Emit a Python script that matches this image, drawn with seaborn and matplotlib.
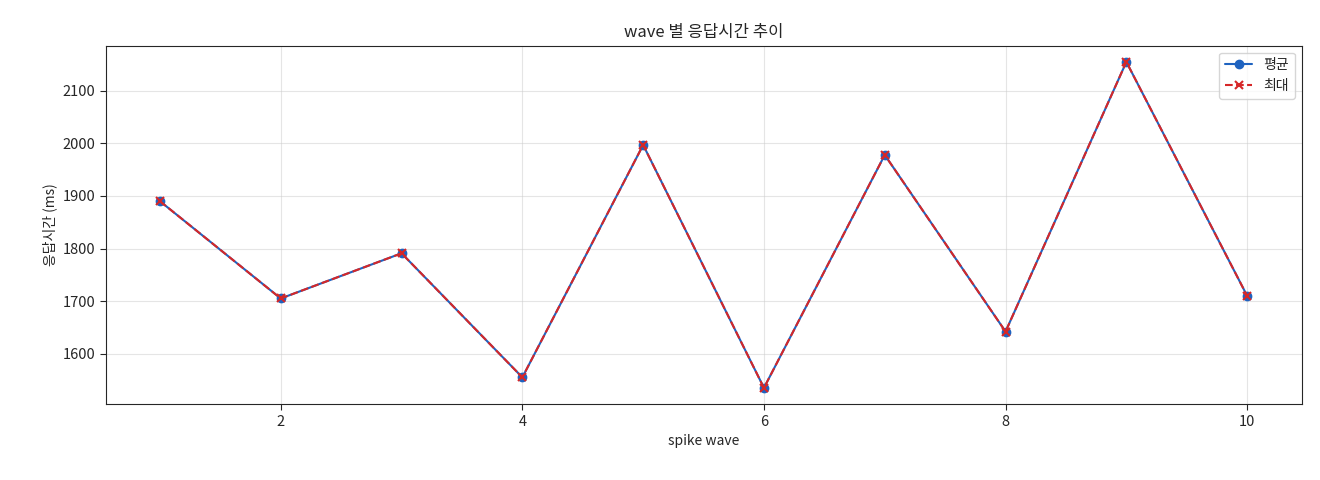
import matplotlib
matplotlib.use("Agg")
import matplotlib.pyplot as plt
import seaborn as sns
import pandas as pd

waves = [1, 2, 3, 4, 5, 6, 7, 8, 9, 10]
avg_ms = [1890, 1705, 1791, 1555, 1997, 1535, 1978, 1642, 2155, 1710]
max_ms = [1890, 1705, 1791, 1555, 1997, 1535, 1978, 1642, 2155, 1710]

sns.set_style("ticks")
plt.rcParams['font.family'] = ['Noto Sans CJK KR', 'DejaVu Sans']
plt.rcParams['axes.unicode_minus'] = False

df = pd.DataFrame({"wave": waves, "avg": avg_ms, "max": max_ms})
fig, ax = plt.subplots(figsize=(13.2, 4.8), dpi=100)
fig.subplots_adjust(left=0.08, right=0.986, top=0.905, bottom=0.158)
sns.lineplot(data=df, x="wave", y="avg", ax=ax, label="평균")
sns.lineplot(data=df, x="wave", y="max", ax=ax, label="최대")
l1, l2 = ax.lines[0], ax.lines[1]
l1.set(color="#1f63c0", marker="o", markersize=6, markerfacecolor="#1f63c0",
       markeredgecolor="#1f63c0", markeredgewidth=1, linestyle="-", linewidth=1.5)
l2.set(color="#d62728", marker="x", markersize=6, markeredgecolor="#d62728",
       markeredgewidth=1.5, linestyle="--", linewidth=1.5)
ax.grid(True, alpha=0.5, linewidth=0.8)
ax.set_title("wave 별 응답시간 추이", fontsize=12)
ax.set_xlabel("spike wave", fontsize=10)
ax.set_ylabel("응답시간 (ms)", fontsize=10)
ax.tick_params(labelsize=10.5, length=4, width=0.8)
ax.legend(handles=[l1, l2], labels=["평균", "최대"], loc="upper right", fontsize=10)
for s in ax.spines.values():
    s.set_linewidth(0.8)
fig.savefig("out.png")
